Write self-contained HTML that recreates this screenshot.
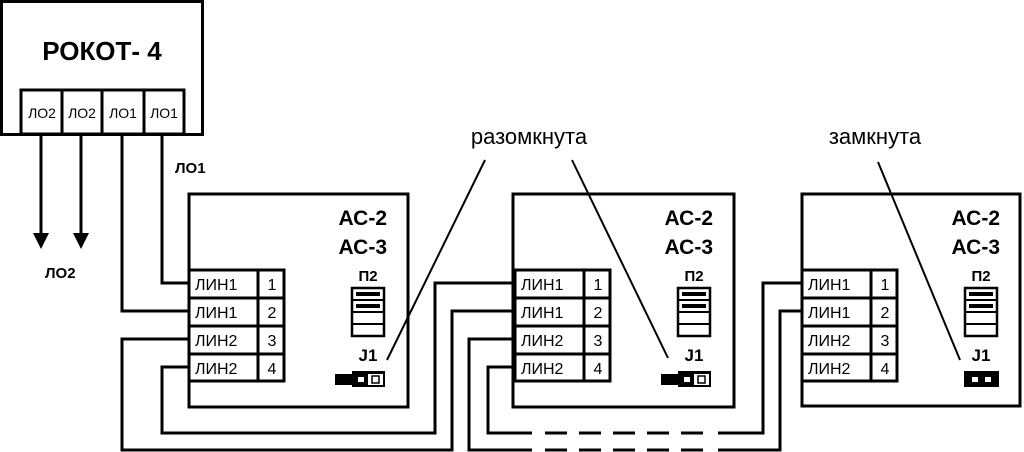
<!DOCTYPE html>
<html><head><meta charset="utf-8"><style>
html,body{margin:0;padding:0;background:#fff;}
svg{display:block;}
text{font-family:"Liberation Sans",sans-serif;fill:#000;}
.b{font-weight:bold;}
</style></head><body>
<svg width="1024" height="452" viewBox="0 0 1024 452" xmlns="http://www.w3.org/2000/svg">
<g fill="none" stroke="#000" stroke-width="3">
<rect x="1.5" y="1.5" width="201" height="133"/>
<rect x="21" y="90" width="163" height="44"/>
<line x1="62" y1="90" x2="62" y2="134"/>
<line x1="102" y1="90" x2="102" y2="134"/>
<line x1="144" y1="90" x2="144" y2="134"/>
<line x1="41" y1="134" x2="41" y2="236"/>
<line x1="81" y1="134" x2="81" y2="236"/>
<polyline points="122,134 122,311 189,311"/>
<polyline points="162,134 162,283 189,283"/>
<rect x="189" y="194" width="219" height="213"/>
<rect x="513" y="194" width="221" height="213"/>
<rect x="802" y="194" width="218" height="212"/>
<polyline points="189,339 122,339 122,450 452,450 452,311 515,311"/>
<polyline points="189,367 162,367 162,433 435,433 435,283 515,283"/>
<polyline points="515,339 469,339 469,450 532,450"/>
<polyline points="515,367 488,367 488,433 532,433"/>
<polyline points="718,433 763,433 763,283 802,283"/>
<polyline points="718,450 780,450 780,311 802,311"/>
</g>
<g stroke="#000" stroke-width="3">
<line x1="545" y1="433" x2="703" y2="433" stroke-dasharray="22,12"/>
<line x1="545" y1="450" x2="703" y2="450" stroke-dasharray="22,12"/>
</g>
<polygon points="33,233 49,233 41,249" fill="#000"/>
<polygon points="73,233 89,233 81,249" fill="#000"/>
<g stroke="#000" stroke-width="2">
<line x1="485" y1="160" x2="387" y2="360"/>
<line x1="572" y1="160" x2="668" y2="358"/>
<line x1="878" y1="162" x2="960" y2="360"/>
</g>
<text x="102" y="60" class="b" font-size="26" text-anchor="middle">РОКОТ- 4</text>
<g font-size="14" text-anchor="middle">
<text x="42" y="118">ЛО2</text><text x="82" y="118">ЛО2</text>
<text x="123" y="118">ЛО1</text><text x="164" y="118">ЛО1</text>
</g>
<text x="175" y="173" class="b" font-size="15">ЛО1</text>
<text x="45" y="278" class="b" font-size="15">ЛО2</text>
<text x="529" y="144" font-size="22" text-anchor="middle">разомкнута</text>
<text x="875" y="144" font-size="22" text-anchor="middle">замкнута</text>
<defs>
<g id="mod">
<g fill="none" stroke="#000" stroke-width="3">
<rect x="0" y="270" width="95" height="111"/>
<line x1="0" y1="298" x2="95" y2="298"/>
<line x1="0" y1="326" x2="95" y2="326"/>
<line x1="0" y1="354" x2="95" y2="354"/>
<line x1="69" y1="270" x2="69" y2="381"/>
<rect x="163" y="288" width="32" height="48" stroke-width="2.5"/>
<line x1="163" y1="300" x2="195" y2="300" stroke-width="2"/>
<line x1="163" y1="312" x2="195" y2="312" stroke-width="2"/>
<line x1="163" y1="324" x2="195" y2="324" stroke-width="2"/>
</g>
<rect x="167" y="292" width="24" height="4" fill="#000"/>
<rect x="167" y="304" width="24" height="4" fill="#000"/>
<g font-size="16">
<text x="6" y="290">ЛИН1</text><text x="6" y="318">ЛИН1</text>
<text x="6" y="346">ЛИН2</text><text x="6" y="374">ЛИН2</text>
</g>
<g font-size="16" text-anchor="middle">
<text x="83" y="290">1</text><text x="83" y="318">2</text>
<text x="83" y="346">3</text><text x="83" y="374">4</text>
</g>
<text x="198" y="225" class="b" font-size="21" text-anchor="end">АС-2</text>
<text x="198" y="254" class="b" font-size="21" text-anchor="end">АС-3</text>
<text x="179" y="281" class="b" font-size="15" text-anchor="middle">П2</text>
<text x="179" y="361" class="b" font-size="17" text-anchor="middle">J1</text>
</g>
<g id="jopen">
<rect x="0" y="374" width="19" height="11" fill="#000"/>
<rect x="17" y="371" width="33" height="16" fill="#000"/>
<rect x="20" y="374" width="28" height="11" fill="#fff"/>
<rect x="19" y="374" width="14" height="11" fill="#000"/>
<rect x="23" y="377" width="6" height="5" fill="#fff"/>
<rect x="37" y="376" width="7" height="7" fill="none" stroke="#000" stroke-width="1.5"/>
</g>
</defs>
<use href="#mod" x="189" y="0"/>
<use href="#mod" x="515" y="0"/>
<use href="#mod" x="802" y="0"/>
<use href="#jopen" x="335" y="0"/>
<use href="#jopen" x="661" y="0"/>
<rect x="964" y="371" width="35" height="16" fill="#000"/>
<rect x="972" y="377" width="6" height="5" fill="#fff"/>
<rect x="985" y="377" width="6" height="5" fill="#fff"/>
</svg>
</body></html>
